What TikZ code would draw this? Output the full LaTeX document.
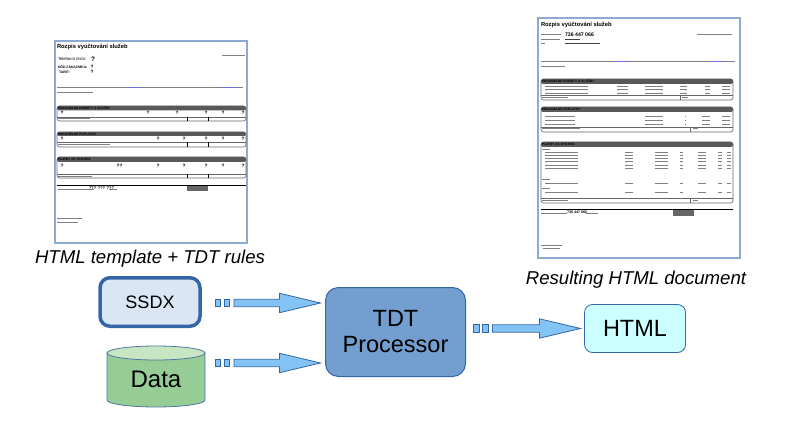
\documentclass[tikz,border=0pt]{standalone}
\usepackage{fontspec}
\setmainfont{Liberation Sans}
\usetikzlibrary{calc}

\definecolor{boxblue}{RGB}{52,101,164}
\definecolor{ssdxfill}{RGB}{218,230,243}
\definecolor{tdtfill}{RGB}{114,159,207}
\definecolor{htmlfill}{RGB}{204,255,255}
\definecolor{arrowfill}{RGB}{131,195,245}
\definecolor{datafill}{RGB}{150,204,150}
\definecolor{datatop}{RGB}{200,230,195}
\definecolor{dataline}{RGB}{80,120,160}
\definecolor{docframe}{RGB}{140,170,210}
\definecolor{linkblue}{RGB}{110,110,230}

\tikzstyle{every node}=[inner sep=0pt, outer sep=0pt]
\tikzstyle{block}=[draw=boxblue, rounded corners=10pt, align=center]
\tikzstyle{fat arrow}=[draw=boxblue, fill=arrowfill, line width=0.8pt, line join=miter]
\tikzstyle{doc}=[draw=docframe, line width=1.4pt, fill=white]
\tikzstyle{txt}=[black!50, line width=1pt]
\tikzstyle{link}=[linkblue, line width=1pt]
\tikzstyle{sechead}=[fill=black!65, rounded corners=2pt]
\tikzstyle{secbox}=[draw=black!60, line width=0.6pt, rounded corners=2.5pt]
\tikzstyle{seclabel}=[anchor=west, font=\bfseries\fontsize{3.2}{3.2}\selectfont]
\tikzstyle{tiny}=[anchor=west, font=\fontsize{3.5}{3.5}\selectfont]
\tikzstyle{qmark}=[font=\bfseries\fontsize{4.8}{4.8}\selectfont]

% block arrow with two small squares in front
\newcommand{\fatarrow}[2]{%
  \path (#1) coordinate (fa-s) (#2) coordinate (fa-t);
  \draw[fat arrow] ($(fa-s)+(0,-3.7)$) rectangle ($(fa-s)+(5.5,3.7)$);
  \draw[fat arrow] ($(fa-s)+(9,-3.7)$) rectangle ($(fa-s)+(14.5,3.7)$);
  \draw[fat arrow] ($(fa-s)+(19,-3.7)$) -- ($(fa-t)+(-41,-3.7)$) -- ($(fa-t)+(-41,-9.7)$)
    -- (fa-t) -- ($(fa-t)+(-41,9.7)$) -- ($(fa-t)+(-41,3.7)$) -- ($(fa-s)+(19,3.7)$) -- cycle;
}
% table section of a document thumbnail: name, x1, x2, top, head bottom, bottom, label
\newcommand{\docsec}[7]{%
  \draw[secbox] (#2,#4) rectangle (#3,#6);
  \fill[sechead] (#2,#4) rectangle (#3,#5);
  \node[seclabel] (#1) at ({#2+1},{(#4+#5)/2}) {#7};
}

\begin{document}
\begin{tikzpicture}[x=1pt, y=-1pt]
  \useasboundingbox (0,0) rectangle (794,422);

  % template thumbnail
  \draw[doc] (55,41) rectangle (247,243);
  \node[anchor=west, font=\bfseries\fontsize{5.8}{6}\selectfont] (ltitle) at (57,47) {Rozpis vyúčtování služeb};
  \node[tiny, font=\fontsize{4.2}{4.2}\selectfont] (lphone) at (58,59) {Telefonní číslo:};
  \node[qmark, font=\bfseries\fontsize{6.5}{6.5}\selectfont] (lq-phone) at (93,59) {?};
  \node[tiny, font=\bfseries\fontsize{3.4}{3.4}\selectfont] (lcust) at (58,67) {KÓD ZÁKAZNÍKA:};
  \node[qmark] (lq-cust) at (92,67) {?};
  \node[tiny, font=\bfseries\fontsize{3.4}{3.4}\selectfont] (ltarif) at (59,72) {TARIF:};
  \node[qmark] (lq-tarif) at (92,72) {?};
  \draw[txt] (222,56) -- (245,56);
  \draw[txt] (57,88) -- (243,88) (57,93) -- (93,93);
  \draw[link] (128,88) -- (140,88) (222,88) -- (235,88);

  \docsec{lsec1}{57}{246}{106}{110.5}{121}{PRAVIDELNÉ KREDITY A SLUŽBY}
  \foreach \x [count=\i] in {62,148,177,206,223,243}
    \node[qmark] (lq1-\i) at (\x,113) {?};
  \draw[black!60, line width=0.6pt] (57,117) -- (246,117);
  \draw[black, line width=0.7pt] (187,117) -- (187,121) (208,117) -- (208,121);
  \draw[txt] (58,119) -- (90,119);

  \docsec{lsec2}{57}{246}{132}{136}{147}{PRAVIDELNÉ POPLATKY}
  \foreach \x [count=\i] in {62,158,184,206,223,243}
    \node[qmark] (lq2-\i) at (\x,139) {?};
  \draw[black!60, line width=0.6pt] (57,142.5) -- (246,142.5);
  \draw[black, line width=0.7pt] (187,142.5) -- (187,147) (208,142.5) -- (208,147);
  \draw[txt] (58,145) -- (110,145);

  \docsec{lsec3}{57}{246}{157}{162}{178}{PLATBY ZA SPOJENÍ}
  \foreach \x [count=\i] in {62,118,121,158,184,206,223,243}
    \node[qmark] (lq3-\i) at (\x,166) {?};
  \draw[black!60, line width=0.6pt] (57,174) -- (246,174);
  \draw[black, line width=0.7pt] (187,174) -- (187,178) (208,174) -- (208,178);
  \draw[txt] (58,176) -- (92,176);

  \draw[black, line width=1pt] (57,185) -- (246,185);
  \fill[black!60] (187,186) rectangle (208,191);
  \draw[txt] (58,189) -- (94,189) (109,189) -- (117,189);
  \node[qmark, font=\bfseries\fontsize{4}{4}\selectfont] (ltotal) at (101.5,188.5) {??? ??? ???};
  \draw[txt] (57,218) -- (82,218) (57,222) -- (78,222);

  % resulting document thumbnail
  \draw[doc] (538,18) rectangle (740,258);
  \node[anchor=west, font=\bfseries\fontsize{5.8}{6}\selectfont] (rtitle) at (541,25) {Rozpis vyúčtování služeb};
  \node[anchor=west, font=\bfseries\fontsize{5.2}{5.2}\selectfont] (rphone) at (565,35) {736 447 066};
  \draw[txt] (541,35) -- (561,35) (697,35) -- (732,35);
  \draw[txt] (541,40) -- (560,40) (541,44) -- (545,44);
  \draw[black!75, line width=1pt] (565,40) -- (580,40) (565,44) -- (600,44);
  \draw[txt] (541,62) -- (735,62) (541,67) -- (565,67);
  \draw[link] (613,62) -- (630,62) (710,62) -- (723,62);

  \docsec{rsec1}{541}{733}{79}{84}{100}{PRAVIDELNÉ KREDITY A SLUŽBY}
  \foreach \y in {86.5,90,93.5}
    \draw[txt] (545,\y) -- (588,\y) (617,\y) -- (628,\y) (645,\y) -- (663,\y)
      (680,\y) -- (687,\y) (705,\y) -- (710,\y) (722,\y) -- (730,\y);
  \draw[black!60, line width=0.5pt] (541,95.5) -- (733,95.5) (680,95.5) -- (680,100);
  \draw[txt] (542,97.5) -- (568,97.5) (682,97.5) -- (688,97.5);

  \docsec{rsec2}{541}{733}{107}{112}{132}{PRAVIDELNÉ POPLATKY}
  \foreach \y in {116.5,120.5,124.5}
    \draw[txt] (545,\y) -- (575,\y) (645,\y) -- (663,\y) (685,\y) -- (686,\y)
      (702,\y) -- (710,\y) (722,\y) -- (730,\y);
  \draw[black!60, line width=0.5pt] (541,127) -- (733,127) (690,127) -- (690,132);
  \draw[txt] (542,129) -- (580,129) (693,129) -- (698,129);

  \docsec{rsec3}{541}{733}{142}{147}{203}{PLATBY ZA SPOJENÍ}
  \foreach \y in {149.5,179,188.5}
    \draw[txt] (542,\y) -- (550,\y);
  \foreach \y in {153,156,159,162,165.5,169,183,192.5}
    \draw[txt] (545,\y) -- (578,\y) (625,\y) -- (633,\y) (655,\y) -- (668,\y)
      (680,\y) -- (683,\y) (698,\y) -- (706,\y) (718,\y) -- (722,\y) (727,\y) -- (731,\y);
  \draw[black!60, line width=0.5pt] (541,198.5) -- (733,198.5) (690,198.5) -- (690,203);
  \draw[txt] (542,200.5) -- (568,200.5) (693,200.5) -- (698,200.5);

  \draw[black, line width=1pt] (541,209.5) -- (733,209.5);
  \fill[black!60] (673,210) rectangle (694,216);
  \draw[txt] (541,213) -- (567,213) (586,213) -- (598,213);
  \node[anchor=west, font=\bfseries\fontsize{3.6}{3.6}\selectfont] (rtotal) at (567,212.5) {736 447 066};
  \draw[txt] (541,245) -- (562,245) (543,248) -- (560,248);

  % captions
  \node[font=\itshape\fontsize{18.6}{18.6}\selectfont] (tplcap) at (150,258.5) {HTML template + TDT rules};
  \node[font=\itshape\fontsize{18.6}{18.6}\selectfont] (rescap) at (636,280) {Resulting HTML document};

  % data cylinder
  \coordinate (datac) at (156,379);
  \draw[dataline, fill=datafill, line width=0.8pt] ($(datac)+(-49,-26)$) -- ($(datac)+(-49,21)$)
    arc[start angle=180, end angle=0, x radius=49, y radius=7] -- ($(datac)+(49,-26)$) -- cycle;
  \draw[dataline, fill=datatop, line width=0.8pt] ($(datac)+(0,-26)$) ellipse[x radius=49, y radius=7];

  % processing chain
  \node[block, line width=3.5pt, fill=ssdxfill, minimum width=100pt, minimum height=48.5pt,
    font=\fontsize{18}{18}\selectfont] (ssdx) at (150,302) {SSDX};
  \node[minimum width=98pt, minimum height=56pt, font=\fontsize{24}{24}\selectfont] (data) at (datac) {Data};
  \node[block, line width=1pt, fill=tdtfill, rounded corners=13pt, minimum width=140pt, minimum height=89pt,
    font=\fontsize{23.5}{26}\selectfont] (tdt) at (395.5,332) {TDT\\Processor};
  \node[block, line width=0.8pt, fill=htmlfill, rounded corners=8pt, minimum width=101pt, minimum height=48pt,
    font=\fontsize{23.5}{23.5}\selectfont] (html) at (635,328.5) {HTML};

  \fatarrow{$(ssdx.east)+(15,1)$}{$(tdt.west |- ssdx.east)+(-5,1)$}
  \fatarrow{$(data.east)+(10,-16)$}{$(tdt.west |- data.east)+(-5,-16)$}
  \fatarrow{$(tdt.east |- html.west)+(8,0)$}{$(html.west)+(-4,0)$}
\end{tikzpicture}
\end{document}
